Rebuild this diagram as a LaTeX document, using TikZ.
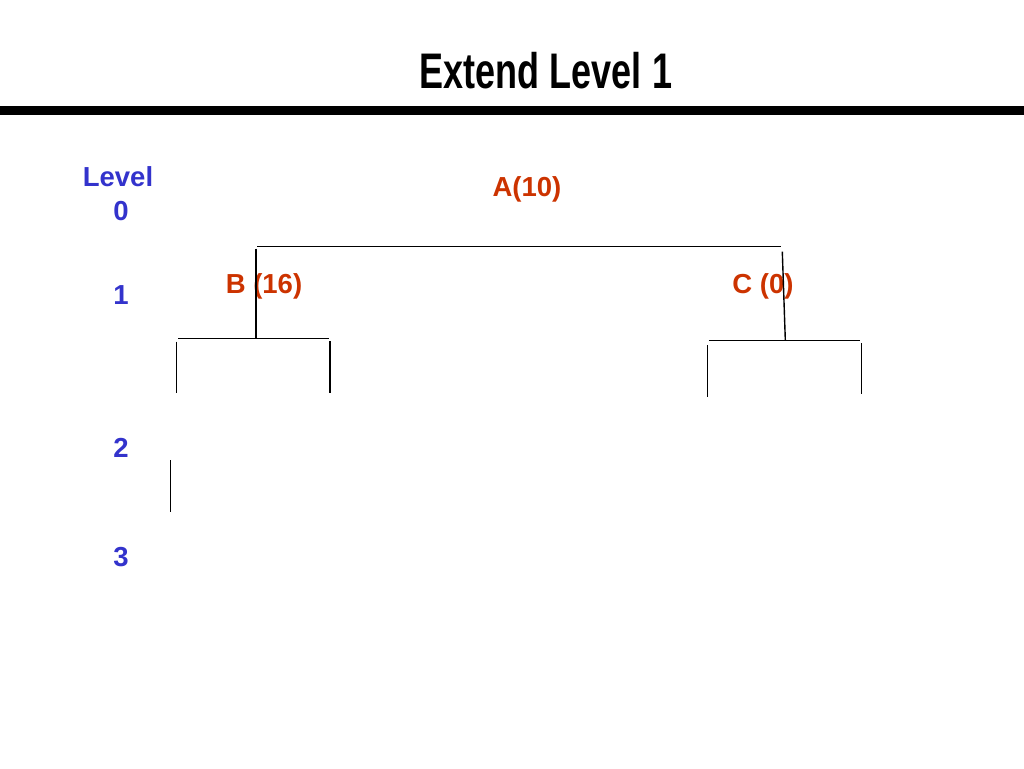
\documentclass[tikz,border=0pt]{standalone}
\usepackage{fontspec}
\setmainfont{Liberation Sans}
\definecolor{lvlblue}{HTML}{3333CC}
\definecolor{nodered}{HTML}{CC3300}
\begin{document}
\begin{tikzpicture}[x=1pt,y=-1pt,
  lvl/.style={text=lvlblue,font=\fontsize{27.5}{34}\selectfont\bfseries,anchor=base,inner sep=0pt,align=center},
  tnode/.style={text=nodered,font=\fontsize{27.5}{34}\selectfont\bfseries,anchor=base,inner sep=0pt},
  edge/.style={line width=1.4pt,black}]
\useasboundingbox (0,0) rectangle (1024,768);
% title
\node (title) [anchor=base,inner sep=0pt,font=\fontsize{50}{60}\selectfont\bfseries] at (546,88.5) {\scalebox{0.72}[1]{Extend Level 1}};
\draw[line width=9pt] (0,110) -- (1024,110);
% level labels
\node (lv0) [lvl] at (118,186) {Level};
\node (lv0n) [lvl] at (121,220) {0};
\node (lv1) [lvl] at (121,304) {1};
\node (lv2) [lvl] at (121,457) {2};
\node (lv3) [lvl] at (121,566) {3};
% node labels
\node (A) [tnode] at (527,196) {A(10)};
\node (B) [tnode] at (264,293) {B (16)};
\node (C) [tnode] at (763,293) {C (0)};
% coordinates
\coordinate (abl) at (257,246.7);
\coordinate (abr) at (781,246.7);
\coordinate (bt) at (256,248.5);
\coordinate (bb) at (256,337.5);
\coordinate (ct) at (782.3,251.7);
\coordinate (cb) at (785.3,340);
\coordinate (bbl) at (178,338.7);
\coordinate (bbr) at (329,338.7);
\coordinate (b1t) at (176.7,341.5);
\coordinate (b1b) at (176.7,393);
\coordinate (b2t) at (330,341);
\coordinate (b2b) at (330,393);
\coordinate (cbl) at (709.3,340.7);
\coordinate (cbr) at (860,340.7);
\coordinate (c1t) at (707.7,345);
\coordinate (c1b) at (707.7,396.7);
\coordinate (c2t) at (861.3,343.3);
\coordinate (c2b) at (861.3,394.3);
\coordinate (dt) at (170.5,460);
\coordinate (db) at (170.5,511.5);
% edges
\draw[edge] (abl) -- (abr);
\draw[edge] (bt) -- (bb);
\draw[edge] (ct) -- (cb);
\draw[edge] (bbl) -- (bbr);
\draw[edge] (b1t) -- (b1b);
\draw[edge] (b2t) -- (b2b);
\draw[edge] (cbl) -- (cbr);
\draw[edge] (c1t) -- (c1b);
\draw[edge] (c2t) -- (c2b);
\draw[edge] (dt) -- (db);
\end{tikzpicture}
\end{document}
